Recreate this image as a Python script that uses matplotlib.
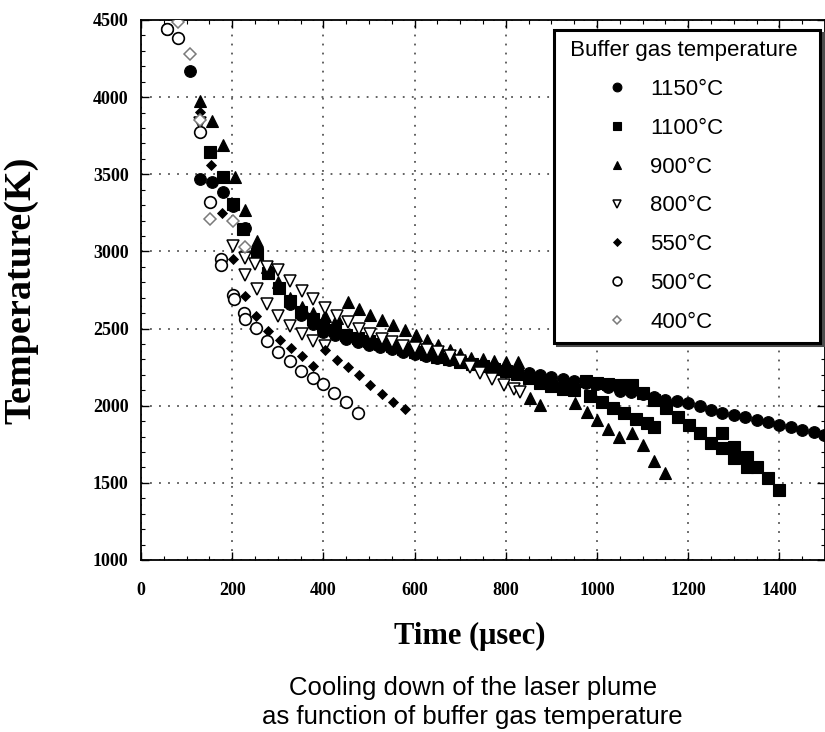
import matplotlib
matplotlib.use("Agg")
import matplotlib.pyplot as plt
from matplotlib.ticker import MultipleLocator
from matplotlib.lines import Line2D

# ---------------- data ----------------
labels = ["1150\u00b0C", "1100\u00b0C", "900\u00b0C", "800\u00b0C", "550\u00b0C", "500\u00b0C", "400\u00b0C"]

t_1150 = [57, 107, 129, 155, 180, 202, 228, 254, 278, 302, 326, 350, 376, 400, 425, 450, 475, 500,
          525, 550, 575, 600, 625, 650, 675, 700, 725, 750, 775, 800, 825, 850, 875, 900, 925, 950,
          975, 1000, 1025, 1050, 1075, 1100, 1125, 1150, 1175, 1200, 1225, 1250, 1275, 1300, 1325,
          1350, 1375, 1400, 1425, 1450, 1475, 1497]
T_1150 = [4440, 4170, 3470, 3450, 3385, 3295, 3150, 3000, 2870, 2760, 2660, 2590, 2530, 2480, 2455,
          2435, 2415, 2395, 2380, 2365, 2350, 2335, 2322, 2310, 2298, 2285, 2272, 2262, 2250, 2238,
          2225, 2212, 2198, 2185, 2172, 2160, 2148, 2138, 2120, 2095, 2088, 2075, 2055, 2040, 2028,
          2018, 1998, 1975, 1955, 1940, 1925, 1908, 1892, 1875, 1860, 1845, 1828, 1812]

t_1100 = [151, 180, 202, 224, 254, 278, 302, 326, 350, 376, 400, 425, 450, 475, 500, 525, 550, 575,
          600, 625, 650, 675, 700, 725, 750, 775, 800, 825, 850, 875, 900, 925, 950, 985, 1010, 1035,
          1060, 1085, 1110, 1125, 975, 1000, 1025, 1050, 1076, 1100, 1126, 1152, 1177, 1201, 1225,
          1251, 1275, 1275, 1301, 1301, 1328, 1328, 1350, 1374, 1400]
T_1100 = [3645, 3480, 3307, 3144, 2982, 2860, 2760, 2680, 2610, 2560, 2520, 2490, 2460, 2440, 2420,
          2400, 2385, 2365, 2350, 2335, 2315, 2300, 2285, 2270, 2255, 2240, 2225, 2205, 2180, 2150,
          2125, 2110, 2100, 2065, 2025, 1985, 1950, 1915, 1890, 1865, 2160, 2150, 2140, 2135, 2137,
          2085, 2035, 1987, 1929, 1876, 1824, 1759, 1824, 1727, 1734, 1662, 1668, 1603, 1603, 1532,
          1454]

t_900 = [129, 156, 180, 206, 228, 254, 276, 300, 326, 353, 377, 403, 429, 453, 478, 502, 528, 552,
         578, 604, 627, 651, 677, 699, 724, 750, 775, 800, 826, 852, 874, 951, 977, 1001, 1023, 1049,
         1076, 1100, 1124, 1150]
T_900 = [3977, 3847, 3690, 3482, 3268, 3070, 2900, 2800, 2700, 2640, 2600, 2580, 2570, 2670, 2624,
         2590, 2555, 2522, 2490, 2460, 2425, 2395, 2364, 2332, 2310, 2300, 2292, 2285, 2280, 2052,
         2007, 2020, 1961, 1905, 1850, 1798, 1824, 1746, 1640, 1565]

t_800 = [129, 202, 228, 250, 276, 300, 326, 353, 377, 403, 429, 453, 478, 502, 528, 550, 574, 600,
         627, 651, 677, 700, 722, 743, 769, 795, 819, 830, 228, 254, 276, 300, 326, 353, 377, 403]
T_800 = [3830, 3034, 2960, 2917, 2900, 2880, 2806, 2741, 2689, 2630, 2579, 2540, 2494, 2462, 2430,
         2410, 2390, 2377, 2364, 2345, 2319, 2290, 2250, 2215, 2175, 2137, 2110, 2088, 2850, 2754,
         2657, 2579, 2514, 2462, 2420, 2390]

t_550 = [57, 81, 107, 129, 153, 178, 202, 228, 252, 278, 305, 329, 353, 377, 403, 429, 453, 478,
         502, 528, 552, 578]
T_550 = [4440, 4380, 4170, 3905, 3560, 3250, 2949, 2709, 2579, 2481, 2429, 2377, 2319, 2260, 2364,
         2299, 2254, 2202, 2137, 2078, 2026, 1980]

t_500 = [57, 81, 129, 151, 175, 176, 202, 203, 226, 227, 252, 276, 300, 326, 350, 376, 400, 424, 450, 476]
T_500 = [4440, 4380, 3775, 3320, 2950, 2910, 2720, 2690, 2600, 2560, 2505, 2420, 2350, 2290, 2225,
         2178, 2140, 2085, 2025, 1955]

t_400 = [81, 107, 129, 151, 202, 228]
T_400 = [4490, 4282, 3850, 3209, 3196, 3027]

x_ticks = [0, 200, 400, 600, 800, 1000, 1200, 1400]
y_ticks = [1000, 1500, 2000, 2500, 3000, 3500, 4000, 4500]

# ---------------- figure ----------------
fig = plt.figure(figsize=(8.25, 7.32), dpi=100)
ax = fig.add_axes([0.171, 0.235, 0.829, 0.7377])

styles = [
    dict(marker="o", ms=8.4, mfc="black", mec="black", mew=0.8),
    dict(marker="s", ms=8.4, mfc="black", mec="black", mew=0.8),
    dict(marker="^", ms=8.2, mfc="black", mec="black", mew=0.8),
    dict(marker="v", ms=8.2, mfc="white", mec="black", mew=1.1),
    dict(marker="D", ms=5.3, mfc="black", mec="black", mew=0.6),
    dict(marker="o", ms=8.4, mfc="white", mec="black", mew=1.2),
    dict(marker="D", ms=6.0, mfc="white", mec="#7a7a7a", mew=1.1),
]
series = [(t_1150, T_1150), (t_1100, T_1100), (t_900, T_900), (t_800, T_800),
          (t_550, T_550), (t_500, T_500), (t_400, T_400)]
order_z = [3, 3, 3, 4, 5, 5, 6]

handles = []
for (tx, ty), st, lab, z in zip(series, styles, labels, order_z):
    ax.plot(tx, ty, linestyle="none", zorder=z, **st)
    handles.append(Line2D([], [], linestyle="none", label=lab, **st))

ax.set_xlim(0, 1500)
ax.set_ylim(1000, 4500)
ax.set_xticks(x_ticks)
ax.set_yticks(y_ticks)
ax.xaxis.set_minor_locator(MultipleLocator(50))
ax.yaxis.set_minor_locator(MultipleLocator(100))
ax.tick_params(which="both", direction="in", top=True, right=True, colors="black")
ax.tick_params(which="major", length=6, width=1.0)
ax.tick_params(which="minor", length=3, width=0.8)
ax.tick_params(axis="x", which="major", pad=16)
ax.tick_params(axis="y", which="major", pad=9)

ax.grid(True, which="major", linestyle=(0, (1, 4)), linewidth=1.3, color="#555555")
for s in ax.spines.values():
    s.set_linewidth(1.3)

for lab in ax.get_xticklabels() + ax.get_yticklabels():
    lab.set_fontfamily("Liberation Serif")
    lab.set_fontweight("bold")
    lab.set_fontsize(13)

ax.set_xlabel("Time (\u03bcsec)", fontfamily="Liberation Serif", fontweight="bold", fontsize=22)
ax.xaxis.set_label_coords(0.481, -0.114)
ax.set_ylabel("Temperature(K)", fontfamily="Liberation Serif", fontweight="bold", fontsize=27.5)
ax.yaxis.set_label_coords(-0.150, 0.5)

leg = ax.legend(handles=handles, title=" Buffer gas temperature  ", loc="upper right",
                bbox_to_anchor=(0.993, 0.981), borderaxespad=0.0, alignment="left",
                prop={"family": "Liberation Sans", "size": 16},
                title_fontproperties={"family": "Liberation Sans", "size": 16},
                frameon=True, fancybox=False, markerscale=0.75,
                handlelength=4.77, handletextpad=-0.9, labelspacing=0.8,
                borderpad=0.45, shadow={"facecolor": "black", "alpha": 1.0})
leg.get_frame().set_edgecolor("black")
leg.get_frame().set_linewidth(2.2)
leg.set_zorder(10)

fig.text(0.573, 0.040, "Cooling down of the laser plume\nas function of buffer gas temperature",
         ha="center", va="center", fontfamily="Liberation Sans", fontsize=18.5, linespacing=1.25)

fig.savefig("out.png", dpi=100)
